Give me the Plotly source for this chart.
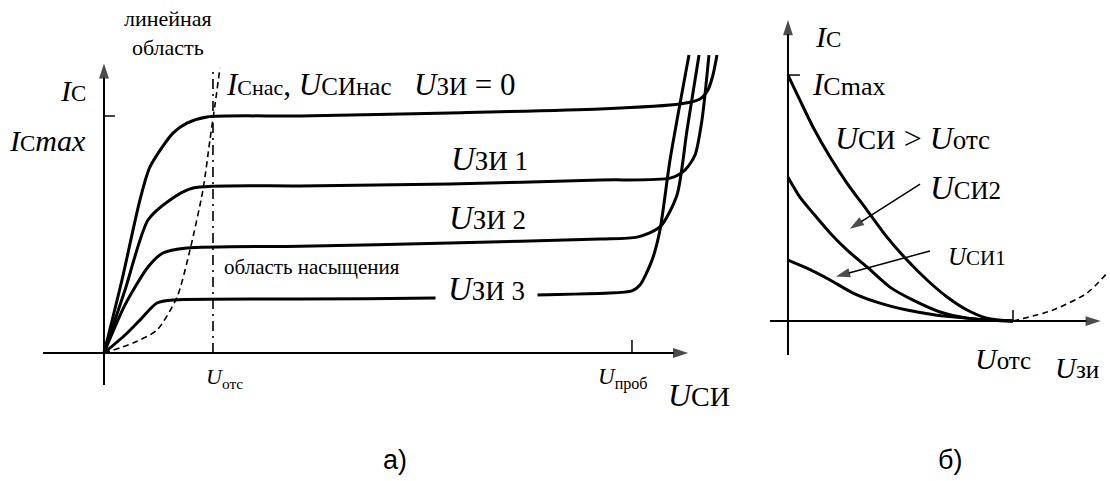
import plotly.graph_objects as go

W, H = 1110, 481

# ---------------- panel a: output characteristics ----------------
# U_SI in units of U_ots, I_C in units of I_Cmax
u_si_0 = [0, 0.165, 0.330, 0.422, 0.633, 0.761, 0.945, 1.798, 3.174, 4.550, 5.284, 5.468, 5.541, 5.587, 5.624]
i_c_0 = [0, 0.308, 0.646, 0.785, 0.928, 0.970, 0.996, 1.000, 1.013, 1.030, 1.051, 1.072, 1.110, 1.173, 1.257]

u_si_1 = [0, 0.193, 0.404, 0.606, 0.817, 1.798, 3.174, 4.550, 5.193, 5.330, 5.422, 5.486, 5.550]
i_c_1 = [0, 0.266, 0.561, 0.646, 0.696, 0.705, 0.713, 0.730, 0.738, 0.772, 0.835, 0.983, 1.257]

u_si_2 = [0, 0.193, 0.404, 0.541, 0.761, 1.798, 3.174, 4.550, 4.890, 5.101, 5.257, 5.349, 5.459]
i_c_2 = [0, 0.203, 0.363, 0.422, 0.443, 0.451, 0.464, 0.481, 0.489, 0.532, 0.667, 0.941, 1.257]

u_si_3 = [0, 0.193, 0.330, 0.486, 0.651, 1.798, 3.037, 3.908, 4.844, 4.917, 5.028, 5.101, 5.193, 5.367]
i_c_3 = [0, 0.076, 0.139, 0.211, 0.224, 0.228, 0.232, 0.245, 0.262, 0.287, 0.392, 0.519, 0.814, 1.257]

# boundary of saturation (dashed parabola)
u_si_sat = [0, 0.266, 0.486, 0.670, 0.789, 0.908, 0.972, 1.018, 1.064]
i_c_sat = [0, 0.042, 0.097, 0.236, 0.435, 0.688, 0.899, 1.046, 1.203]

u_ots_a = 1.0
u_prob = 4.844
i_cmax_a = 1.0

# ---------------- panel б: transfer characteristics ----------------
# U_ZI in units of U_ots, I_C in units of I_Cmax
u_zi_top = [0, 0.053, 0.111, 0.187, 0.262, 0.351, 0.440, 0.529, 0.618, 0.707, 0.796, 0.884, 1.0]
i_c_top = [1.0, 0.898, 0.789, 0.667, 0.561, 0.451, 0.341, 0.248, 0.167, 0.098, 0.045, 0.012, 0.0]

u_zi_2 = [0, 0.053, 0.111, 0.187, 0.262, 0.351, 0.453, 0.556, 0.676, 0.796, 0.929, 1.0]
i_c_2b = [0.585, 0.504, 0.439, 0.358, 0.289, 0.220, 0.138, 0.085, 0.037, 0.012, 0.002, 0.0]

u_zi_1 = [0, 0.084, 0.187, 0.289, 0.409, 0.529, 0.662, 0.796, 0.929, 1.0]
i_c_1b = [0.248, 0.215, 0.167, 0.114, 0.073, 0.045, 0.024, 0.012, 0.002, 0.0]

u_zi_dash = [1.0, 1.178, 1.329, 1.418]
i_c_dash = [0.0, 0.045, 0.114, 0.195]

u_ots_b = 1.0
i_cmax_b = 1.0

SERIF = "Liberation Serif"
SANS = "Liberation Sans"

fig = go.Figure()

def curve(x, y, xa, ya, width=3, dash="solid", shape="spline"):
    fig.add_trace(go.Scatter(x=x, y=y, xaxis=xa, yaxis=ya, mode="lines",
                             line=dict(color="black", width=width, dash=dash,
                                       shape=shape, smoothing=0.7),
                             cliponaxis=False, hoverinfo="skip", showlegend=False))

def arrow_line(xs, ys, xa, ya, width=2, msize=16):
    # line from start to arrowhead centre; arrow marker oriented along the segment
    fig.add_trace(go.Scatter(x=xs, y=ys, xaxis=xa, yaxis=ya, mode="lines+markers",
                             line=dict(color="black", width=width),
                             marker=dict(symbol=["circle", "arrow"], size=[0, msize],
                                         angleref="previous", color="black",
                                         line=dict(width=0)),
                             cliponaxis=False, hoverinfo="skip", showlegend=False))

# panel a curves
curve(u_si_0, i_c_0, "x", "y")
curve(u_si_1, i_c_1, "x", "y")
curve(u_si_2, i_c_2, "x", "y")
curve(u_si_3, i_c_3, "x", "y")
curve(u_si_sat, i_c_sat, "x", "y", width=1.6, dash="6px,4px")
curve([u_ots_a, u_ots_a], [0, 1.203], "x", "y", width=1.6, dash="10px,5px,2px,5px", shape="linear")

# panel б curves
curve(u_zi_top, i_c_top, "x2", "y2")
curve(u_zi_2, i_c_2b, "x2", "y2")
curve(u_zi_1, i_c_1b, "x2", "y2")
curve(u_zi_dash, i_c_dash, "x2", "y2", width=1.6, dash="6px,4px")

# axes with arrowheads
arrow_line([0, 0], [-0.135, 1.222], "x", "y")
arrow_line([-0.56, 5.36], [0, 0], "x", "y")
arrow_line([0, 0], [-0.138, 1.224], "x2", "y2")
arrow_line([-0.08, 1.39], [0, 0], "x2", "y2")
# pointer arrows in panel б
arrow_line([0.587, 0.275], [0.557, 0.375], "x2", "y2", width=1.5, msize=15)
arrow_line([0.631, 0.213], [0.285, 0.181], "x2", "y2", width=1.5, msize=15)

def seg(xr, yr, x0, x1, y0, y1, w):
    fig.add_shape(type="line", xref=xr, yref=yr, x0=x0, x1=x1, y0=y0, y1=y1,
                  line=dict(color="black", width=w))

# ticks
seg("x", "y", 0, 0.1, i_cmax_a, i_cmax_a, 1.5)
seg("x", "y", u_prob, u_prob, 0, 0.055, 1.5)
seg("x2", "y2", 0, 0.053, i_cmax_b, i_cmax_b, 1.5)
seg("x2", "y2", u_ots_b, u_ots_b, 0, 0.045, 1.5)

def lab(text, px, py, size=26, xanchor="left", family=None, bg=None, pad=0):
    fam = family if family is not None else SERIF
    kw = dict(text=text, x=px / W, y=1 - py / H, xref="paper", yref="paper",
              xanchor=xanchor, yanchor="middle", showarrow=False,
              font=dict(family=fam, size=size, color="black"))
    if bg:
        kw["bgcolor"] = bg
        kw["borderpad"] = pad
    fig.add_annotation(**kw)

def sp(t, s):
    return f"<span style='font-size:{s}px'>{t}</span>"

# panel a labels
lab("линейная<br>область", 168, 33, size=22, xanchor="center")
lab("<i>I</i>" + sp("C", 23), 88, 90, size=30, xanchor="right")
lab("<i>I</i>" + sp("C", 23) + "<i>max</i>", 88, 140, size=30, xanchor="right")
lab("<i>I</i>" + sp("Снас", 22) + ", <i>U</i>" + sp("СИнас", 25), 224, 84, size=31)
lab("<i>U</i>" + sp("ЗИ", 25) + " = 0", 412, 84, size=31)
lab("<i>U</i>" + sp("ЗИ 1", 27), 449, 159, size=33)
lab("<i>U</i>" + sp("ЗИ 2", 27), 447, 218, size=33)
lab("область насыщения", 222, 267, size=21)
lab("<i>U</i>" + sp("ЗИ 3", 27), 486, 289, size=33, xanchor="center", bg="white", pad=12)
lab("<i>U</i><sub>отс</sub>", 204, 378, size=22)
lab("<i>U</i><sub>проб</sub>", 596, 378, size=23)
lab("<i>U</i>" + sp("СИ", 28), 666, 395, size=32)
lab("а)", 395, 460, size=27, xanchor="center", family=SANS)

# panel б labels
lab("<i>I</i>" + sp("C", 23), 813, 36, size=30)
lab("<i>I</i>" + sp("Cmax", 26), 810, 84, size=31)
lab("<i>U</i>" + sp("СИ", 27) + " &gt; <i>U</i>" + sp("отс", 27), 833, 138, size=32)
lab("<i>U</i>" + sp("СИ2", 25), 928, 188, size=33)
lab("<i>U</i>" + sp("СИ1", 21), 946, 256, size=25)
lab("<i>U</i>" + sp("отс", 25), 973, 358, size=30)
lab("<i>U</i>" + sp("зи", 25), 1053, 368, size=29)
lab("б)", 950, 460, size=27, xanchor="center", family=SANS)

ax_common = dict(visible=False, showgrid=False, zeroline=False, fixedrange=True)

fig.update_layout(
    width=W, height=H,
    margin=dict(l=0, r=0, t=0, b=0),
    paper_bgcolor="white", plot_bgcolor="white",
    showlegend=False,
    font=dict(family=SERIF, color="black"),
    xaxis=dict(domain=[0, 740 / W], range=[-0.954, 5.835], anchor="y", **ax_common),
    yaxis=dict(domain=[0, 1], range=[-0.540, 1.4895], anchor="x", **ax_common),
    xaxis2=dict(domain=[745 / W, 1], range=[-0.191, 1.431], anchor="y2", **ax_common),
    yaxis2=dict(domain=[0, 1], range=[-0.650, 1.305], anchor="x2", **ax_common),
)

fig.write_html("out.html", config={"displayModeBar": False})
